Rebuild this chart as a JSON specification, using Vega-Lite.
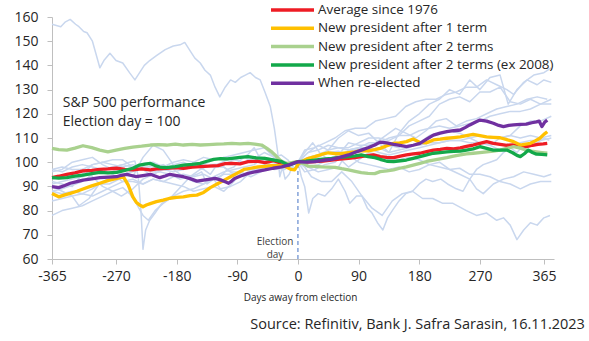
{
"$schema":"https://vega.github.io/schema/vega-lite/v6.json",
"autosize":{"type":"none"},
"width":502,"height":242,
"padding":{"left":52,"top":17,"right":35,"bottom":82},
"background":"white",
"title":{"text":"Source: Refinitiv, Bank J. Safra Sarasin, 16.11.2023","orient":"bottom","anchor":"end","fontSize":14.5,"fontWeight":"normal","font":"Open Sans","color":"#262626","offset":16,"dx":29},
"config":{"view":{"stroke":null},"font":"Open Sans",
"axis":{"grid":false,"domainColor":"#bfbfbf","tickColor":"#bfbfbf","labelFont":"Open Sans","labelColor":"#262626","labelFontSize":14,"titleFont":"Open Sans","titleFontWeight":"normal","titleColor":"#262626","labelOverlap":false}},
"datasets":{
"bg":[
{"s":"1976","d":-365,"v":88},{"s":"1976","d":-350,"v":89},{"s":"1976","d":-335,"v":90.5},{"s":"1976","d":-320,"v":92},{"s":"1976","d":-305,"v":95},{"s":"1976","d":-290,"v":97},{"s":"1976","d":-275,"v":98},{"s":"1976","d":-260,"v":99},{"s":"1976","d":-245,"v":98},{"s":"1976","d":-230,"v":99.5},{"s":"1976","d":-215,"v":100},{"s":"1976","d":-200,"v":98},{"s":"1976","d":-185,"v":100},{"s":"1976","d":-170,"v":101},{"s":"1976","d":-155,"v":100},{"s":"1976","d":-140,"v":99},{"s":"1976","d":-125,"v":101},{"s":"1976","d":-110,"v":102},{"s":"1976","d":-95,"v":101},{"s":"1976","d":-80,"v":100},{"s":"1976","d":-65,"v":101.5},{"s":"1976","d":-50,"v":104},{"s":"1976","d":-35,"v":102},{"s":"1976","d":-20,"v":99},{"s":"1976","d":-8,"v":99.5},{"s":"1976","d":0,"v":100},{"s":"1976","d":15,"v":100.5},{"s":"1976","d":30,"v":102},{"s":"1976","d":45,"v":104},{"s":"1976","d":60,"v":104.5},{"s":"1976","d":75,"v":103},{"s":"1976","d":90,"v":100},{"s":"1976","d":105,"v":99},{"s":"1976","d":120,"v":98},{"s":"1976","d":135,"v":97},{"s":"1976","d":150,"v":98},{"s":"1976","d":165,"v":96},{"s":"1976","d":180,"v":97},{"s":"1976","d":195,"v":99},{"s":"1976","d":210,"v":98},{"s":"1976","d":225,"v":97},{"s":"1976","d":240,"v":97.5},{"s":"1976","d":255,"v":95},{"s":"1976","d":270,"v":95},{"s":"1976","d":285,"v":94},{"s":"1976","d":300,"v":92},{"s":"1976","d":315,"v":91},{"s":"1976","d":330,"v":89},{"s":"1976","d":345,"v":91},{"s":"1976","d":360,"v":92},{"s":"1976","d":376,"v":92},
{"s":"1980","d":-365,"v":78},{"s":"1980","d":-350,"v":80},{"s":"1980","d":-335,"v":81},{"s":"1980","d":-320,"v":82},{"s":"1980","d":-305,"v":84},{"s":"1980","d":-290,"v":86},{"s":"1980","d":-275,"v":88},{"s":"1980","d":-260,"v":89.5},{"s":"1980","d":-250,"v":87},{"s":"1980","d":-240,"v":83},{"s":"1980","d":-230,"v":78},{"s":"1980","d":-222,"v":76},{"s":"1980","d":-212,"v":80},{"s":"1980","d":-200,"v":83},{"s":"1980","d":-185,"v":86},{"s":"1980","d":-170,"v":88},{"s":"1980","d":-155,"v":89},{"s":"1980","d":-140,"v":91},{"s":"1980","d":-125,"v":93},{"s":"1980","d":-110,"v":95},{"s":"1980","d":-95,"v":95},{"s":"1980","d":-80,"v":97},{"s":"1980","d":-65,"v":96},{"s":"1980","d":-50,"v":98},{"s":"1980","d":-35,"v":98},{"s":"1980","d":-20,"v":97},{"s":"1980","d":0,"v":100},{"s":"1980","d":10,"v":104},{"s":"1980","d":22,"v":108},{"s":"1980","d":32,"v":104},{"s":"1980","d":45,"v":101},{"s":"1980","d":60,"v":102},{"s":"1980","d":75,"v":98},{"s":"1980","d":90,"v":101},{"s":"1980","d":105,"v":104},{"s":"1980","d":120,"v":103},{"s":"1980","d":135,"v":101},{"s":"1980","d":150,"v":101},{"s":"1980","d":165,"v":102},{"s":"1980","d":180,"v":101},{"s":"1980","d":195,"v":99},{"s":"1980","d":210,"v":100},{"s":"1980","d":225,"v":97},{"s":"1980","d":240,"v":95},{"s":"1980","d":255,"v":93},{"s":"1980","d":265,"v":89},{"s":"1980","d":275,"v":87},{"s":"1980","d":290,"v":91},{"s":"1980","d":305,"v":93},{"s":"1980","d":320,"v":94},{"s":"1980","d":335,"v":96},{"s":"1980","d":350,"v":95},{"s":"1980","d":365,"v":94},{"s":"1980","d":376,"v":95},
{"s":"1984","d":-365,"v":97},{"s":"1984","d":-350,"v":96},{"s":"1984","d":-335,"v":98},{"s":"1984","d":-320,"v":99},{"s":"1984","d":-305,"v":98},{"s":"1984","d":-290,"v":97},{"s":"1984","d":-275,"v":95},{"s":"1984","d":-260,"v":92},{"s":"1984","d":-245,"v":93},{"s":"1984","d":-230,"v":91},{"s":"1984","d":-215,"v":93},{"s":"1984","d":-200,"v":92},{"s":"1984","d":-185,"v":91},{"s":"1984","d":-170,"v":90},{"s":"1984","d":-155,"v":88},{"s":"1984","d":-140,"v":89},{"s":"1984","d":-125,"v":90},{"s":"1984","d":-110,"v":88},{"s":"1984","d":-95,"v":92},{"s":"1984","d":-80,"v":97},{"s":"1984","d":-65,"v":97},{"s":"1984","d":-50,"v":98},{"s":"1984","d":-35,"v":97},{"s":"1984","d":-20,"v":97.5},{"s":"1984","d":0,"v":100},{"s":"1984","d":15,"v":98},{"s":"1984","d":30,"v":96},{"s":"1984","d":45,"v":97},{"s":"1984","d":60,"v":98},{"s":"1984","d":75,"v":105},{"s":"1984","d":90,"v":106},{"s":"1984","d":105,"v":105},{"s":"1984","d":120,"v":106},{"s":"1984","d":135,"v":104},{"s":"1984","d":150,"v":105},{"s":"1984","d":165,"v":106},{"s":"1984","d":180,"v":108},{"s":"1984","d":195,"v":111},{"s":"1984","d":210,"v":112},{"s":"1984","d":225,"v":113},{"s":"1984","d":240,"v":112},{"s":"1984","d":255,"v":110},{"s":"1984","d":270,"v":108},{"s":"1984","d":285,"v":107},{"s":"1984","d":300,"v":110},{"s":"1984","d":315,"v":111},{"s":"1984","d":330,"v":115},{"s":"1984","d":345,"v":117},{"s":"1984","d":360,"v":117},{"s":"1984","d":376,"v":119},
{"s":"1988","d":-365,"v":90},{"s":"1988","d":-350,"v":88},{"s":"1988","d":-335,"v":86},{"s":"1988","d":-325,"v":82},{"s":"1988","d":-310,"v":85},{"s":"1988","d":-295,"v":91},{"s":"1988","d":-280,"v":91},{"s":"1988","d":-265,"v":93},{"s":"1988","d":-250,"v":96},{"s":"1988","d":-235,"v":98},{"s":"1988","d":-220,"v":95},{"s":"1988","d":-205,"v":96},{"s":"1988","d":-190,"v":95},{"s":"1988","d":-175,"v":93},{"s":"1988","d":-160,"v":94},{"s":"1988","d":-145,"v":97},{"s":"1988","d":-130,"v":99},{"s":"1988","d":-115,"v":99},{"s":"1988","d":-100,"v":96},{"s":"1988","d":-85,"v":96},{"s":"1988","d":-70,"v":94},{"s":"1988","d":-55,"v":96},{"s":"1988","d":-40,"v":98},{"s":"1988","d":-25,"v":101},{"s":"1988","d":-10,"v":99},{"s":"1988","d":0,"v":100},{"s":"1988","d":15,"v":98},{"s":"1988","d":30,"v":99},{"s":"1988","d":45,"v":101},{"s":"1988","d":60,"v":103},{"s":"1988","d":75,"v":108},{"s":"1988","d":90,"v":107},{"s":"1988","d":105,"v":107},{"s":"1988","d":120,"v":108},{"s":"1988","d":135,"v":110},{"s":"1988","d":150,"v":111},{"s":"1988","d":165,"v":115},{"s":"1988","d":180,"v":117},{"s":"1988","d":195,"v":119},{"s":"1988","d":210,"v":124},{"s":"1988","d":225,"v":126},{"s":"1988","d":240,"v":127},{"s":"1988","d":255,"v":125},{"s":"1988","d":270,"v":129},{"s":"1988","d":285,"v":129},{"s":"1988","d":300,"v":131},{"s":"1988","d":315,"v":125},{"s":"1988","d":330,"v":124},{"s":"1988","d":345,"v":126},{"s":"1988","d":360,"v":124},{"s":"1988","d":376,"v":126},
{"s":"1992","d":-365,"v":92},{"s":"1992","d":-350,"v":91},{"s":"1992","d":-335,"v":90},{"s":"1992","d":-320,"v":95},{"s":"1992","d":-305,"v":99},{"s":"1992","d":-290,"v":100},{"s":"1992","d":-275,"v":99},{"s":"1992","d":-260,"v":98},{"s":"1992","d":-245,"v":99},{"s":"1992","d":-230,"v":97},{"s":"1992","d":-215,"v":96},{"s":"1992","d":-200,"v":97},{"s":"1992","d":-185,"v":99},{"s":"1992","d":-170,"v":100},{"s":"1992","d":-155,"v":98},{"s":"1992","d":-140,"v":98},{"s":"1992","d":-125,"v":99},{"s":"1992","d":-110,"v":99},{"s":"1992","d":-95,"v":101},{"s":"1992","d":-80,"v":102},{"s":"1992","d":-65,"v":100},{"s":"1992","d":-50,"v":101},{"s":"1992","d":-35,"v":100},{"s":"1992","d":-20,"v":98},{"s":"1992","d":0,"v":100},{"s":"1992","d":15,"v":102},{"s":"1992","d":30,"v":103},{"s":"1992","d":45,"v":104},{"s":"1992","d":60,"v":104},{"s":"1992","d":75,"v":103},{"s":"1992","d":90,"v":106},{"s":"1992","d":105,"v":108},{"s":"1992","d":120,"v":108},{"s":"1992","d":135,"v":107},{"s":"1992","d":150,"v":106},{"s":"1992","d":165,"v":107},{"s":"1992","d":180,"v":107},{"s":"1992","d":195,"v":108},{"s":"1992","d":210,"v":108},{"s":"1992","d":225,"v":109},{"s":"1992","d":240,"v":109},{"s":"1992","d":255,"v":110},{"s":"1992","d":270,"v":111},{"s":"1992","d":285,"v":110},{"s":"1992","d":300,"v":110},{"s":"1992","d":315,"v":111},{"s":"1992","d":330,"v":110},{"s":"1992","d":345,"v":111},{"s":"1992","d":360,"v":110},{"s":"1992","d":376,"v":111},
{"s":"1996","d":-365,"v":84},{"s":"1996","d":-350,"v":85},{"s":"1996","d":-335,"v":86},{"s":"1996","d":-320,"v":87},{"s":"1996","d":-305,"v":86},{"s":"1996","d":-290,"v":88},{"s":"1996","d":-275,"v":90},{"s":"1996","d":-260,"v":92},{"s":"1996","d":-245,"v":92},{"s":"1996","d":-230,"v":91},{"s":"1996","d":-215,"v":93},{"s":"1996","d":-200,"v":92},{"s":"1996","d":-185,"v":94},{"s":"1996","d":-170,"v":95},{"s":"1996","d":-155,"v":94},{"s":"1996","d":-140,"v":95},{"s":"1996","d":-125,"v":93},{"s":"1996","d":-115,"v":89},{"s":"1996","d":-100,"v":90},{"s":"1996","d":-85,"v":92},{"s":"1996","d":-70,"v":96},{"s":"1996","d":-55,"v":97},{"s":"1996","d":-40,"v":100},{"s":"1996","d":-25,"v":99},{"s":"1996","d":-10,"v":99},{"s":"1996","d":0,"v":100},{"s":"1996","d":15,"v":104},{"s":"1996","d":30,"v":107},{"s":"1996","d":45,"v":105},{"s":"1996","d":60,"v":110},{"s":"1996","d":75,"v":113},{"s":"1996","d":90,"v":111},{"s":"1996","d":105,"v":112},{"s":"1996","d":120,"v":108},{"s":"1996","d":135,"v":104},{"s":"1996","d":150,"v":112},{"s":"1996","d":165,"v":117},{"s":"1996","d":180,"v":120},{"s":"1996","d":195,"v":124},{"s":"1996","d":210,"v":126},{"s":"1996","d":225,"v":130},{"s":"1996","d":240,"v":128},{"s":"1996","d":255,"v":134},{"s":"1996","d":270,"v":130},{"s":"1996","d":285,"v":135},{"s":"1996","d":300,"v":136},{"s":"1996","d":312,"v":124},{"s":"1996","d":325,"v":130},{"s":"1996","d":340,"v":134},{"s":"1996","d":355,"v":132},{"s":"1996","d":365,"v":134},{"s":"1996","d":376,"v":133},
{"s":"2000","d":-365,"v":96},{"s":"2000","d":-350,"v":97},{"s":"2000","d":-335,"v":100},{"s":"2000","d":-320,"v":101},{"s":"2000","d":-305,"v":102},{"s":"2000","d":-290,"v":99},{"s":"2000","d":-275,"v":97},{"s":"2000","d":-260,"v":95},{"s":"2000","d":-245,"v":94},{"s":"2000","d":-230,"v":102},{"s":"2000","d":-215,"v":107},{"s":"2000","d":-200,"v":105},{"s":"2000","d":-185,"v":99},{"s":"2000","d":-170,"v":97},{"s":"2000","d":-155,"v":100},{"s":"2000","d":-140,"v":102},{"s":"2000","d":-125,"v":101},{"s":"2000","d":-110,"v":102},{"s":"2000","d":-95,"v":103},{"s":"2000","d":-80,"v":104},{"s":"2000","d":-65,"v":105},{"s":"2000","d":-50,"v":106},{"s":"2000","d":-35,"v":102},{"s":"2000","d":-20,"v":97},{"s":"2000","d":-8,"v":99},{"s":"2000","d":0,"v":100},{"s":"2000","d":10,"v":98},{"s":"2000","d":20,"v":94},{"s":"2000","d":35,"v":92},{"s":"2000","d":50,"v":92},{"s":"2000","d":65,"v":96},{"s":"2000","d":80,"v":92},{"s":"2000","d":95,"v":86},{"s":"2000","d":110,"v":81},{"s":"2000","d":125,"v":78},{"s":"2000","d":140,"v":84},{"s":"2000","d":155,"v":87},{"s":"2000","d":170,"v":88},{"s":"2000","d":185,"v":85},{"s":"2000","d":200,"v":85},{"s":"2000","d":215,"v":83},{"s":"2000","d":230,"v":83},{"s":"2000","d":250,"v":80},{"s":"2000","d":265,"v":78},{"s":"2000","d":280,"v":79},{"s":"2000","d":295,"v":76},{"s":"2000","d":305,"v":77},{"s":"2000","d":315,"v":74},{"s":"2000","d":325,"v":68},{"s":"2000","d":335,"v":72},{"s":"2000","d":345,"v":75},{"s":"2000","d":355,"v":74},{"s":"2000","d":365,"v":77},{"s":"2000","d":374,"v":78},
{"s":"2004","d":-365,"v":93},{"s":"2004","d":-350,"v":94},{"s":"2004","d":-335,"v":95},{"s":"2004","d":-320,"v":97},{"s":"2004","d":-305,"v":99},{"s":"2004","d":-290,"v":100},{"s":"2004","d":-275,"v":101},{"s":"2004","d":-260,"v":101},{"s":"2004","d":-245,"v":98},{"s":"2004","d":-230,"v":97},{"s":"2004","d":-215,"v":99},{"s":"2004","d":-200,"v":97},{"s":"2004","d":-185,"v":96},{"s":"2004","d":-170,"v":97},{"s":"2004","d":-155,"v":98},{"s":"2004","d":-140,"v":99},{"s":"2004","d":-125,"v":98},{"s":"2004","d":-110,"v":98},{"s":"2004","d":-95,"v":95},{"s":"2004","d":-80,"v":94},{"s":"2004","d":-65,"v":97},{"s":"2004","d":-50,"v":99},{"s":"2004","d":-35,"v":98},{"s":"2004","d":-20,"v":98},{"s":"2004","d":0,"v":100},{"s":"2004","d":15,"v":104},{"s":"2004","d":30,"v":105},{"s":"2004","d":45,"v":107},{"s":"2004","d":60,"v":106},{"s":"2004","d":75,"v":105},{"s":"2004","d":90,"v":106},{"s":"2004","d":105,"v":106},{"s":"2004","d":120,"v":104},{"s":"2004","d":135,"v":103},{"s":"2004","d":150,"v":104},{"s":"2004","d":165,"v":105},{"s":"2004","d":180,"v":106},{"s":"2004","d":195,"v":107},{"s":"2004","d":210,"v":108},{"s":"2004","d":225,"v":109},{"s":"2004","d":240,"v":109},{"s":"2004","d":255,"v":108},{"s":"2004","d":270,"v":108},{"s":"2004","d":285,"v":107},{"s":"2004","d":300,"v":105},{"s":"2004","d":315,"v":106},{"s":"2004","d":330,"v":108},{"s":"2004","d":345,"v":109},{"s":"2004","d":360,"v":109},{"s":"2004","d":376,"v":110},
{"s":"2008","d":-365,"v":157},{"s":"2008","d":-352,"v":156},{"s":"2008","d":-345,"v":158},{"s":"2008","d":-338,"v":159},{"s":"2008","d":-330,"v":157},{"s":"2008","d":-325,"v":156},{"s":"2008","d":-318,"v":154},{"s":"2008","d":-313,"v":153.5},{"s":"2008","d":-305,"v":150},{"s":"2008","d":-300,"v":145},{"s":"2008","d":-294,"v":139},{"s":"2008","d":-288,"v":142},{"s":"2008","d":-279,"v":145},{"s":"2008","d":-270,"v":142},{"s":"2008","d":-260,"v":141},{"s":"2008","d":-250,"v":137},{"s":"2008","d":-242,"v":134},{"s":"2008","d":-235,"v":137},{"s":"2008","d":-228,"v":140},{"s":"2008","d":-220,"v":142},{"s":"2008","d":-210,"v":144},{"s":"2008","d":-197,"v":146.5},{"s":"2008","d":-185,"v":148},{"s":"2008","d":-175,"v":148.5},{"s":"2008","d":-168,"v":149.5},{"s":"2008","d":-160,"v":146},{"s":"2008","d":-153,"v":143},{"s":"2008","d":-145,"v":141},{"s":"2008","d":-138,"v":138},{"s":"2008","d":-130,"v":136},{"s":"2008","d":-123,"v":131},{"s":"2008","d":-116,"v":127},{"s":"2008","d":-108,"v":131},{"s":"2008","d":-100,"v":134},{"s":"2008","d":-93,"v":133},{"s":"2008","d":-85,"v":135},{"s":"2008","d":-78,"v":136},{"s":"2008","d":-71,"v":137},{"s":"2008","d":-63,"v":135},{"s":"2008","d":-56,"v":134},{"s":"2008","d":-49,"v":129},{"s":"2008","d":-41,"v":123},{"s":"2008","d":-35,"v":114},{"s":"2008","d":-30,"v":104},{"s":"2008","d":-27,"v":94},{"s":"2008","d":-23,"v":98},{"s":"2008","d":-19,"v":93},{"s":"2008","d":-13,"v":95},{"s":"2008","d":-7,"v":99},{"s":"2008","d":0,"v":100},{"s":"2008","d":5,"v":94},{"s":"2008","d":10,"v":90},{"s":"2008","d":16,"v":79},{"s":"2008","d":22,"v":85},{"s":"2008","d":30,"v":87},{"s":"2008","d":40,"v":86},{"s":"2008","d":50,"v":89},{"s":"2008","d":60,"v":93},{"s":"2008","d":70,"v":88},{"s":"2008","d":77,"v":83},{"s":"2008","d":87,"v":86},{"s":"2008","d":95,"v":86},{"s":"2008","d":103,"v":81},{"s":"2008","d":110,"v":79},{"s":"2008","d":118,"v":75},{"s":"2008","d":126,"v":72},{"s":"2008","d":133,"v":77},{"s":"2008","d":140,"v":80},{"s":"2008","d":150,"v":84},{"s":"2008","d":160,"v":87},{"s":"2008","d":170,"v":88},{"s":"2008","d":180,"v":91},{"s":"2008","d":190,"v":93},{"s":"2008","d":200,"v":92},{"s":"2008","d":212,"v":93},{"s":"2008","d":222,"v":91},{"s":"2008","d":235,"v":89},{"s":"2008","d":245,"v":88},{"s":"2008","d":255,"v":93},{"s":"2008","d":265,"v":97},{"s":"2008","d":275,"v":99},{"s":"2008","d":285,"v":100},{"s":"2008","d":295,"v":101},{"s":"2008","d":305,"v":104},{"s":"2008","d":315,"v":106},{"s":"2008","d":325,"v":104},{"s":"2008","d":335,"v":107},{"s":"2008","d":345,"v":108},{"s":"2008","d":355,"v":108},{"s":"2008","d":365,"v":110},{"s":"2008","d":373,"v":109},
{"s":"2012","d":-365,"v":88},{"s":"2012","d":-350,"v":87},{"s":"2012","d":-335,"v":88},{"s":"2012","d":-320,"v":87},{"s":"2012","d":-305,"v":89},{"s":"2012","d":-290,"v":92},{"s":"2012","d":-275,"v":94},{"s":"2012","d":-260,"v":95},{"s":"2012","d":-245,"v":96},{"s":"2012","d":-230,"v":98},{"s":"2012","d":-215,"v":98},{"s":"2012","d":-200,"v":99},{"s":"2012","d":-185,"v":97},{"s":"2012","d":-170,"v":94},{"s":"2012","d":-155,"v":92},{"s":"2012","d":-140,"v":91},{"s":"2012","d":-125,"v":94},{"s":"2012","d":-110,"v":96},{"s":"2012","d":-95,"v":97},{"s":"2012","d":-80,"v":98},{"s":"2012","d":-65,"v":99},{"s":"2012","d":-50,"v":102},{"s":"2012","d":-35,"v":101},{"s":"2012","d":-20,"v":99},{"s":"2012","d":0,"v":100},{"s":"2012","d":10,"v":96},{"s":"2012","d":25,"v":97},{"s":"2012","d":40,"v":99},{"s":"2012","d":55,"v":100},{"s":"2012","d":70,"v":104},{"s":"2012","d":85,"v":105},{"s":"2012","d":100,"v":106},{"s":"2012","d":115,"v":108},{"s":"2012","d":130,"v":111},{"s":"2012","d":145,"v":114},{"s":"2012","d":160,"v":112},{"s":"2012","d":175,"v":110},{"s":"2012","d":190,"v":113},{"s":"2012","d":205,"v":117},{"s":"2012","d":220,"v":118},{"s":"2012","d":235,"v":115},{"s":"2012","d":250,"v":117},{"s":"2012","d":265,"v":118},{"s":"2012","d":280,"v":120},{"s":"2012","d":295,"v":122},{"s":"2012","d":310,"v":123},{"s":"2012","d":325,"v":124},{"s":"2012","d":340,"v":126},{"s":"2012","d":355,"v":127},{"s":"2012","d":370,"v":126},
{"s":"2016","d":-365,"v":97},{"s":"2016","d":-350,"v":98},{"s":"2016","d":-335,"v":97},{"s":"2016","d":-320,"v":97},{"s":"2016","d":-305,"v":94},{"s":"2016","d":-290,"v":90},{"s":"2016","d":-275,"v":88},{"s":"2016","d":-262,"v":86},{"s":"2016","d":-245,"v":89},{"s":"2016","d":-230,"v":93},{"s":"2016","d":-215,"v":95},{"s":"2016","d":-200,"v":97},{"s":"2016","d":-185,"v":97},{"s":"2016","d":-170,"v":98},{"s":"2016","d":-155,"v":99},{"s":"2016","d":-140,"v":97},{"s":"2016","d":-130,"v":95},{"s":"2016","d":-120,"v":99},{"s":"2016","d":-105,"v":101},{"s":"2016","d":-90,"v":102},{"s":"2016","d":-75,"v":102},{"s":"2016","d":-60,"v":101},{"s":"2016","d":-45,"v":100},{"s":"2016","d":-30,"v":100},{"s":"2016","d":-15,"v":99},{"s":"2016","d":-4,"v":97.5},{"s":"2016","d":0,"v":100},{"s":"2016","d":15,"v":102},{"s":"2016","d":30,"v":103},{"s":"2016","d":45,"v":105},{"s":"2016","d":60,"v":106},{"s":"2016","d":75,"v":106},{"s":"2016","d":90,"v":108},{"s":"2016","d":105,"v":110},{"s":"2016","d":120,"v":110},{"s":"2016","d":135,"v":109},{"s":"2016","d":150,"v":111},{"s":"2016","d":165,"v":111},{"s":"2016","d":180,"v":113},{"s":"2016","d":195,"v":114},{"s":"2016","d":210,"v":115},{"s":"2016","d":225,"v":114},{"s":"2016","d":240,"v":115},{"s":"2016","d":255,"v":116},{"s":"2016","d":270,"v":117},{"s":"2016","d":285,"v":119},{"s":"2016","d":300,"v":120},{"s":"2016","d":315,"v":121},{"s":"2016","d":330,"v":121},{"s":"2016","d":345,"v":122},{"s":"2016","d":360,"v":124},{"s":"2016","d":376,"v":124},
{"s":"2020","d":-365,"v":91},{"s":"2020","d":-350,"v":92},{"s":"2020","d":-335,"v":93},{"s":"2020","d":-320,"v":94},{"s":"2020","d":-305,"v":96},{"s":"2020","d":-290,"v":97},{"s":"2020","d":-275,"v":98},{"s":"2020","d":-260,"v":99},{"s":"2020","d":-250,"v":100},{"s":"2020","d":-242,"v":100.5},{"s":"2020","d":-237,"v":94},{"s":"2020","d":-233,"v":80},{"s":"2020","d":-230,"v":64},{"s":"2020","d":-226,"v":72},{"s":"2020","d":-220,"v":76},{"s":"2020","d":-212,"v":79},{"s":"2020","d":-202,"v":83},{"s":"2020","d":-190,"v":85},{"s":"2020","d":-180,"v":88},{"s":"2020","d":-170,"v":91},{"s":"2020","d":-160,"v":94},{"s":"2020","d":-150,"v":95},{"s":"2020","d":-143,"v":96},{"s":"2020","d":-135,"v":91},{"s":"2020","d":-125,"v":93},{"s":"2020","d":-115,"v":94},{"s":"2020","d":-105,"v":97},{"s":"2020","d":-95,"v":98},{"s":"2020","d":-85,"v":101},{"s":"2020","d":-75,"v":103},{"s":"2020","d":-65,"v":106},{"s":"2020","d":-55,"v":101},{"s":"2020","d":-45,"v":99},{"s":"2020","d":-35,"v":102},{"s":"2020","d":-25,"v":103},{"s":"2020","d":-15,"v":101},{"s":"2020","d":-5,"v":97},{"s":"2020","d":0,"v":100},{"s":"2020","d":10,"v":105},{"s":"2020","d":25,"v":106},{"s":"2020","d":40,"v":108},{"s":"2020","d":55,"v":110},{"s":"2020","d":70,"v":113},{"s":"2020","d":85,"v":114},{"s":"2020","d":100,"v":114},{"s":"2020","d":115,"v":117},{"s":"2020","d":130,"v":118},{"s":"2020","d":145,"v":119},{"s":"2020","d":160,"v":123},{"s":"2020","d":175,"v":125},{"s":"2020","d":190,"v":126},{"s":"2020","d":205,"v":126},{"s":"2020","d":220,"v":128},{"s":"2020","d":235,"v":129},{"s":"2020","d":250,"v":131},{"s":"2020","d":265,"v":131},{"s":"2020","d":280,"v":134},{"s":"2020","d":295,"v":132},{"s":"2020","d":310,"v":130},{"s":"2020","d":320,"v":128},{"s":"2020","d":335,"v":133},{"s":"2020","d":350,"v":136},{"s":"2020","d":365,"v":137},{"s":"2020","d":376,"v":139}
],
"hl":[
{"s":"Average since 1976","d":-365,"v":93.6},{"s":"Average since 1976","d":-355,"v":94.2},{"s":"Average since 1976","d":-343,"v":95},{"s":"Average since 1976","d":-331,"v":95.6},{"s":"Average since 1976","d":-319,"v":96.4},{"s":"Average since 1976","d":-306,"v":96.6},{"s":"Average since 1976","d":-294,"v":97},{"s":"Average since 1976","d":-282,"v":97.2},{"s":"Average since 1976","d":-269,"v":97.5},{"s":"Average since 1976","d":-257,"v":97},{"s":"Average since 1976","d":-245,"v":96.8},{"s":"Average since 1976","d":-232,"v":97.2},{"s":"Average since 1976","d":-219,"v":96.8},{"s":"Average since 1976","d":-207,"v":97.3},{"s":"Average since 1976","d":-195,"v":97.5},{"s":"Average since 1976","d":-182,"v":97.8},{"s":"Average since 1976","d":-170,"v":97.5},{"s":"Average since 1976","d":-157,"v":98},{"s":"Average since 1976","d":-145,"v":98.2},{"s":"Average since 1976","d":-132,"v":98.4},{"s":"Average since 1976","d":-119,"v":98.6},{"s":"Average since 1976","d":-108,"v":99.4},{"s":"Average since 1976","d":-98,"v":99.5},{"s":"Average since 1976","d":-86,"v":99.3},{"s":"Average since 1976","d":-74,"v":100.2},{"s":"Average since 1976","d":-61,"v":100.4},{"s":"Average since 1976","d":-49,"v":99.8},{"s":"Average since 1976","d":-36,"v":100.6},{"s":"Average since 1976","d":-24,"v":99.5},{"s":"Average since 1976","d":-12,"v":99.3},{"s":"Average since 1976","d":0,"v":100.2},{"s":"Average since 1976","d":12,"v":100},{"s":"Average since 1976","d":25,"v":100.2},{"s":"Average since 1976","d":37,"v":100.5},{"s":"Average since 1976","d":50,"v":100.9},{"s":"Average since 1976","d":62,"v":101.3},{"s":"Average since 1976","d":75,"v":101.6},{"s":"Average since 1976","d":87,"v":102},{"s":"Average since 1976","d":100,"v":102.6},{"s":"Average since 1976","d":112,"v":103},{"s":"Average since 1976","d":122,"v":102.3},{"s":"Average since 1976","d":132,"v":102},{"s":"Average since 1976","d":142,"v":101.9},{"s":"Average since 1976","d":152,"v":102.5},{"s":"Average since 1976","d":161,"v":103},{"s":"Average since 1976","d":171,"v":103.4},{"s":"Average since 1976","d":181,"v":103.7},{"s":"Average since 1976","d":191,"v":104.4},{"s":"Average since 1976","d":201,"v":105},{"s":"Average since 1976","d":211,"v":105.3},{"s":"Average since 1976","d":221,"v":105.7},{"s":"Average since 1976","d":231,"v":105.5},{"s":"Average since 1976","d":241,"v":105.9},{"s":"Average since 1976","d":250,"v":106.5},{"s":"Average since 1976","d":260,"v":107.1},{"s":"Average since 1976","d":270,"v":107.8},{"s":"Average since 1976","d":280,"v":108.5},{"s":"Average since 1976","d":290,"v":107.8},{"s":"Average since 1976","d":300,"v":107.4},{"s":"Average since 1976","d":310,"v":107},{"s":"Average since 1976","d":320,"v":107.1},{"s":"Average since 1976","d":330,"v":106.8},{"s":"Average since 1976","d":339,"v":106.4},{"s":"Average since 1976","d":348,"v":107},{"s":"Average since 1976","d":356,"v":107.4},{"s":"Average since 1976","d":364,"v":107.6},{"s":"Average since 1976","d":370,"v":107.8},
{"s":"New president after 1 term","d":-365,"v":87.1},{"s":"New president after 1 term","d":-355,"v":85.7},{"s":"New president after 1 term","d":-346,"v":86.5},{"s":"New president after 1 term","d":-338,"v":87.1},{"s":"New president after 1 term","d":-328,"v":88},{"s":"New president after 1 term","d":-319,"v":88.9},{"s":"New president after 1 term","d":-306,"v":90.2},{"s":"New president after 1 term","d":-294,"v":91.3},{"s":"New president after 1 term","d":-281,"v":92.5},{"s":"New president after 1 term","d":-269,"v":93.3},{"s":"New president after 1 term","d":-259,"v":93.9},{"s":"New president after 1 term","d":-252,"v":90.6},{"s":"New president after 1 term","d":-245,"v":85.7},{"s":"New president after 1 term","d":-240,"v":83.5},{"s":"New president after 1 term","d":-235,"v":82.3},{"s":"New president after 1 term","d":-230,"v":81.6},{"s":"New president after 1 term","d":-225,"v":82.3},{"s":"New president after 1 term","d":-218,"v":83},{"s":"New president after 1 term","d":-210,"v":83.7},{"s":"New president after 1 term","d":-200,"v":84.3},{"s":"New president after 1 term","d":-190,"v":85.1},{"s":"New president after 1 term","d":-180,"v":85.5},{"s":"New president after 1 term","d":-170,"v":85.7},{"s":"New president after 1 term","d":-160,"v":86.2},{"s":"New president after 1 term","d":-150,"v":86.4},{"s":"New president after 1 term","d":-140,"v":87.5},{"s":"New president after 1 term","d":-130,"v":89.5},{"s":"New president after 1 term","d":-120,"v":91},{"s":"New president after 1 term","d":-110,"v":92.5},{"s":"New president after 1 term","d":-100,"v":94},{"s":"New president after 1 term","d":-90,"v":95.5},{"s":"New president after 1 term","d":-80,"v":97},{"s":"New president after 1 term","d":-70,"v":97.5},{"s":"New president after 1 term","d":-59,"v":98.1},{"s":"New president after 1 term","d":-49,"v":98.3},{"s":"New president after 1 term","d":-40,"v":98.6},{"s":"New president after 1 term","d":-30,"v":98.6},{"s":"New president after 1 term","d":-20,"v":98.4},{"s":"New president after 1 term","d":-10,"v":97},{"s":"New president after 1 term","d":-5,"v":96.8},{"s":"New president after 1 term","d":0,"v":99},{"s":"New president after 1 term","d":5,"v":100.2},{"s":"New president after 1 term","d":15,"v":101.5},{"s":"New president after 1 term","d":25,"v":102.3},{"s":"New president after 1 term","d":35,"v":103.2},{"s":"New president after 1 term","d":45,"v":103.9},{"s":"New president after 1 term","d":55,"v":103.5},{"s":"New president after 1 term","d":65,"v":103.6},{"s":"New president after 1 term","d":75,"v":104},{"s":"New president after 1 term","d":84,"v":104.3},{"s":"New president after 1 term","d":94,"v":104.8},{"s":"New president after 1 term","d":104,"v":104.7},{"s":"New president after 1 term","d":114,"v":105.2},{"s":"New president after 1 term","d":122,"v":105.7},{"s":"New president after 1 term","d":132,"v":106.8},{"s":"New president after 1 term","d":142,"v":107.8},{"s":"New president after 1 term","d":151,"v":108},{"s":"New president after 1 term","d":161,"v":108.5},{"s":"New president after 1 term","d":171,"v":109.6},{"s":"New president after 1 term","d":181,"v":108.2},{"s":"New president after 1 term","d":191,"v":108},{"s":"New president after 1 term","d":201,"v":109.2},{"s":"New president after 1 term","d":211,"v":109.5},{"s":"New president after 1 term","d":221,"v":109.9},{"s":"New president after 1 term","d":231,"v":110.2},{"s":"New president after 1 term","d":241,"v":110.5},{"s":"New president after 1 term","d":250,"v":111},{"s":"New president after 1 term","d":260,"v":111.5},{"s":"New president after 1 term","d":270,"v":111},{"s":"New president after 1 term","d":280,"v":110.5},{"s":"New president after 1 term","d":290,"v":110.3},{"s":"New president after 1 term","d":300,"v":110.1},{"s":"New president after 1 term","d":310,"v":109.3},{"s":"New president after 1 term","d":320,"v":108.5},{"s":"New president after 1 term","d":330,"v":107.1},{"s":"New president after 1 term","d":338,"v":107.5},{"s":"New president after 1 term","d":345,"v":107.8},{"s":"New president after 1 term","d":352,"v":108.8},{"s":"New president after 1 term","d":359,"v":109.9},{"s":"New president after 1 term","d":365,"v":111.5},{"s":"New president after 1 term","d":370,"v":112.6},
{"s":"New president after 2 terms","d":-365,"v":105.7},{"s":"New president after 2 terms","d":-355,"v":105.2},{"s":"New president after 2 terms","d":-343,"v":105},{"s":"New president after 2 terms","d":-331,"v":105.8},{"s":"New president after 2 terms","d":-319,"v":106.8},{"s":"New president after 2 terms","d":-306,"v":106},{"s":"New president after 2 terms","d":-294,"v":105},{"s":"New president after 2 terms","d":-282,"v":104.3},{"s":"New president after 2 terms","d":-270,"v":105},{"s":"New president after 2 terms","d":-257,"v":105.7},{"s":"New president after 2 terms","d":-245,"v":106.2},{"s":"New president after 2 terms","d":-232,"v":106.6},{"s":"New president after 2 terms","d":-219,"v":107.1},{"s":"New president after 2 terms","d":-207,"v":107.3},{"s":"New president after 2 terms","d":-195,"v":107.1},{"s":"New president after 2 terms","d":-182,"v":107.5},{"s":"New president after 2 terms","d":-170,"v":107.1},{"s":"New president after 2 terms","d":-157,"v":107.4},{"s":"New president after 2 terms","d":-145,"v":107.1},{"s":"New president after 2 terms","d":-132,"v":107.3},{"s":"New president after 2 terms","d":-120,"v":107.5},{"s":"New president after 2 terms","d":-110,"v":107.6},{"s":"New president after 2 terms","d":-98,"v":107.8},{"s":"New president after 2 terms","d":-86,"v":107.6},{"s":"New president after 2 terms","d":-74,"v":107.8},{"s":"New president after 2 terms","d":-64,"v":107.5},{"s":"New president after 2 terms","d":-54,"v":107.1},{"s":"New president after 2 terms","d":-46,"v":105.7},{"s":"New president after 2 terms","d":-40,"v":104.5},{"s":"New president after 2 terms","d":-34,"v":103},{"s":"New president after 2 terms","d":-29,"v":101.5},{"s":"New president after 2 terms","d":-24,"v":100.2},{"s":"New president after 2 terms","d":-19,"v":99.6},{"s":"New president after 2 terms","d":-14,"v":99.5},{"s":"New president after 2 terms","d":-7,"v":99.9},{"s":"New president after 2 terms","d":0,"v":100.2},{"s":"New president after 2 terms","d":8,"v":99.4},{"s":"New president after 2 terms","d":15,"v":98.4},{"s":"New president after 2 terms","d":25,"v":98.3},{"s":"New president after 2 terms","d":35,"v":98.1},{"s":"New president after 2 terms","d":45,"v":98},{"s":"New president after 2 terms","d":55,"v":97.9},{"s":"New president after 2 terms","d":65,"v":97.3},{"s":"New president after 2 terms","d":75,"v":96.8},{"s":"New president after 2 terms","d":85,"v":96.2},{"s":"New president after 2 terms","d":94,"v":95.7},{"s":"New president after 2 terms","d":104,"v":95.4},{"s":"New president after 2 terms","d":114,"v":95.3},{"s":"New president after 2 terms","d":122,"v":96.1},{"s":"New president after 2 terms","d":132,"v":96.4},{"s":"New president after 2 terms","d":142,"v":96.8},{"s":"New president after 2 terms","d":151,"v":97.5},{"s":"New president after 2 terms","d":161,"v":98.1},{"s":"New president after 2 terms","d":171,"v":98.8},{"s":"New president after 2 terms","d":181,"v":99.5},{"s":"New president after 2 terms","d":191,"v":100.3},{"s":"New president after 2 terms","d":201,"v":100.9},{"s":"New president after 2 terms","d":211,"v":101.4},{"s":"New president after 2 terms","d":221,"v":101.9},{"s":"New president after 2 terms","d":231,"v":102.5},{"s":"New president after 2 terms","d":241,"v":103},{"s":"New president after 2 terms","d":250,"v":103.4},{"s":"New president after 2 terms","d":260,"v":103.7},{"s":"New president after 2 terms","d":270,"v":104},{"s":"New president after 2 terms","d":280,"v":104.3},{"s":"New president after 2 terms","d":290,"v":104.6},{"s":"New president after 2 terms","d":300,"v":105},{"s":"New president after 2 terms","d":310,"v":105.7},{"s":"New president after 2 terms","d":320,"v":106.4},{"s":"New president after 2 terms","d":330,"v":105.8},{"s":"New president after 2 terms","d":339,"v":105},{"s":"New president after 2 terms","d":347,"v":104.6},{"s":"New president after 2 terms","d":354,"v":104.3},{"s":"New president after 2 terms","d":362,"v":104},{"s":"New president after 2 terms","d":370,"v":103.7},
{"s":"New president after 2 terms (ex 2008)","d":-365,"v":93.6},{"s":"New president after 2 terms (ex 2008)","d":-355,"v":93.4},{"s":"New president after 2 terms (ex 2008)","d":-343,"v":93.6},{"s":"New president after 2 terms (ex 2008)","d":-331,"v":94.2},{"s":"New president after 2 terms (ex 2008)","d":-319,"v":94.7},{"s":"New president after 2 terms (ex 2008)","d":-306,"v":95.3},{"s":"New president after 2 terms (ex 2008)","d":-294,"v":95.8},{"s":"New president after 2 terms (ex 2008)","d":-282,"v":95.6},{"s":"New president after 2 terms (ex 2008)","d":-269,"v":95.8},{"s":"New president after 2 terms (ex 2008)","d":-257,"v":96.6},{"s":"New president after 2 terms (ex 2008)","d":-245,"v":97.5},{"s":"New president after 2 terms (ex 2008)","d":-235,"v":98.8},{"s":"New president after 2 terms (ex 2008)","d":-227,"v":99.2},{"s":"New president after 2 terms (ex 2008)","d":-219,"v":99.5},{"s":"New president after 2 terms (ex 2008)","d":-212,"v":98.6},{"s":"New president after 2 terms (ex 2008)","d":-205,"v":98},{"s":"New president after 2 terms (ex 2008)","d":-195,"v":97.8},{"s":"New president after 2 terms (ex 2008)","d":-182,"v":98.2},{"s":"New president after 2 terms (ex 2008)","d":-170,"v":98.8},{"s":"New president after 2 terms (ex 2008)","d":-157,"v":99.1},{"s":"New president after 2 terms (ex 2008)","d":-145,"v":99.5},{"s":"New president after 2 terms (ex 2008)","d":-135,"v":100.4},{"s":"New president after 2 terms (ex 2008)","d":-125,"v":101.2},{"s":"New president after 2 terms (ex 2008)","d":-115,"v":101.5},{"s":"New president after 2 terms (ex 2008)","d":-105,"v":101.4},{"s":"New president after 2 terms (ex 2008)","d":-98,"v":101.6},{"s":"New president after 2 terms (ex 2008)","d":-86,"v":102},{"s":"New president after 2 terms (ex 2008)","d":-74,"v":102.3},{"s":"New president after 2 terms (ex 2008)","d":-62,"v":101.8},{"s":"New president after 2 terms (ex 2008)","d":-49,"v":101.6},{"s":"New president after 2 terms (ex 2008)","d":-37,"v":101},{"s":"New president after 2 terms (ex 2008)","d":-24,"v":100.2},{"s":"New president after 2 terms (ex 2008)","d":-14,"v":98.8},{"s":"New president after 2 terms (ex 2008)","d":-7,"v":99.5},{"s":"New president after 2 terms (ex 2008)","d":0,"v":100.2},{"s":"New president after 2 terms (ex 2008)","d":12,"v":100.4},{"s":"New president after 2 terms (ex 2008)","d":25,"v":100.9},{"s":"New president after 2 terms (ex 2008)","d":37,"v":101.3},{"s":"New president after 2 terms (ex 2008)","d":50,"v":101.6},{"s":"New president after 2 terms (ex 2008)","d":62,"v":102},{"s":"New president after 2 terms (ex 2008)","d":75,"v":102.3},{"s":"New president after 2 terms (ex 2008)","d":85,"v":102.6},{"s":"New president after 2 terms (ex 2008)","d":94,"v":103},{"s":"New president after 2 terms (ex 2008)","d":104,"v":102.3},{"s":"New president after 2 terms (ex 2008)","d":114,"v":101.9},{"s":"New president after 2 terms (ex 2008)","d":122,"v":101.2},{"s":"New president after 2 terms (ex 2008)","d":132,"v":100.4},{"s":"New president after 2 terms (ex 2008)","d":142,"v":100.2},{"s":"New president after 2 terms (ex 2008)","d":152,"v":100.6},{"s":"New president after 2 terms (ex 2008)","d":161,"v":100.9},{"s":"New president after 2 terms (ex 2008)","d":171,"v":101.6},{"s":"New president after 2 terms (ex 2008)","d":181,"v":102.3},{"s":"New president after 2 terms (ex 2008)","d":191,"v":103},{"s":"New president after 2 terms (ex 2008)","d":201,"v":103.7},{"s":"New president after 2 terms (ex 2008)","d":211,"v":104},{"s":"New president after 2 terms (ex 2008)","d":221,"v":104.3},{"s":"New president after 2 terms (ex 2008)","d":231,"v":104.5},{"s":"New president after 2 terms (ex 2008)","d":241,"v":104.6},{"s":"New president after 2 terms (ex 2008)","d":250,"v":105},{"s":"New president after 2 terms (ex 2008)","d":260,"v":105.5},{"s":"New president after 2 terms (ex 2008)","d":270,"v":106.4},{"s":"New president after 2 terms (ex 2008)","d":280,"v":105.7},{"s":"New president after 2 terms (ex 2008)","d":290,"v":105},{"s":"New president after 2 terms (ex 2008)","d":300,"v":105},{"s":"New president after 2 terms (ex 2008)","d":310,"v":105},{"s":"New president after 2 terms (ex 2008)","d":318,"v":104},{"s":"New president after 2 terms (ex 2008)","d":325,"v":102.8},{"s":"New president after 2 terms (ex 2008)","d":330,"v":102.3},{"s":"New president after 2 terms (ex 2008)","d":336,"v":103.5},{"s":"New president after 2 terms (ex 2008)","d":342,"v":105},{"s":"New president after 2 terms (ex 2008)","d":348,"v":104},{"s":"New president after 2 terms (ex 2008)","d":354,"v":103.3},{"s":"New president after 2 terms (ex 2008)","d":362,"v":103.2},{"s":"New president after 2 terms (ex 2008)","d":370,"v":103},
{"s":"When re-elected","d":-365,"v":89.9},{"s":"When re-elected","d":-355,"v":89.5},{"s":"When re-elected","d":-346,"v":90.4},{"s":"When re-elected","d":-338,"v":91.3},{"s":"When re-elected","d":-328,"v":92},{"s":"When re-elected","d":-319,"v":92.6},{"s":"When re-elected","d":-306,"v":93.1},{"s":"When re-elected","d":-294,"v":93.6},{"s":"When re-elected","d":-281,"v":93.8},{"s":"When re-elected","d":-269,"v":94},{"s":"When re-elected","d":-262,"v":94.6},{"s":"When re-elected","d":-254,"v":95},{"s":"When re-elected","d":-247,"v":94.5},{"s":"When re-elected","d":-240,"v":94},{"s":"When re-elected","d":-230,"v":94.5},{"s":"When re-elected","d":-219,"v":95},{"s":"When re-elected","d":-212,"v":94.3},{"s":"When re-elected","d":-205,"v":93.6},{"s":"When re-elected","d":-197,"v":94.3},{"s":"When re-elected","d":-190,"v":95},{"s":"When re-elected","d":-180,"v":94.5},{"s":"When re-elected","d":-170,"v":94},{"s":"When re-elected","d":-160,"v":93.2},{"s":"When re-elected","d":-150,"v":92.2},{"s":"When re-elected","d":-140,"v":92.6},{"s":"When re-elected","d":-130,"v":93},{"s":"When re-elected","d":-123,"v":93.3},{"s":"When re-elected","d":-115,"v":92.7},{"s":"When re-elected","d":-108,"v":91.9},{"s":"When re-elected","d":-103,"v":91.3},{"s":"When re-elected","d":-98,"v":92.3},{"s":"When re-elected","d":-94,"v":93.3},{"s":"When re-elected","d":-84,"v":94.4},{"s":"When re-elected","d":-74,"v":95.4},{"s":"When re-elected","d":-62,"v":96.1},{"s":"When re-elected","d":-49,"v":96.8},{"s":"When re-elected","d":-37,"v":97.5},{"s":"When re-elected","d":-24,"v":98.1},{"s":"When re-elected","d":-14,"v":98.8},{"s":"When re-elected","d":-7,"v":99.5},{"s":"When re-elected","d":0,"v":100.2},{"s":"When re-elected","d":12,"v":100},{"s":"When re-elected","d":25,"v":100.2},{"s":"When re-elected","d":37,"v":100.8},{"s":"When re-elected","d":50,"v":101.2},{"s":"When re-elected","d":62,"v":102},{"s":"When re-elected","d":75,"v":103},{"s":"When re-elected","d":84,"v":104},{"s":"When re-elected","d":94,"v":105},{"s":"When re-elected","d":104,"v":106},{"s":"When re-elected","d":114,"v":107.1},{"s":"When re-elected","d":122,"v":108.3},{"s":"When re-elected","d":132,"v":108},{"s":"When re-elected","d":142,"v":107.4},{"s":"When re-elected","d":151,"v":107},{"s":"When re-elected","d":161,"v":106.4},{"s":"When re-elected","d":171,"v":107},{"s":"When re-elected","d":181,"v":107.8},{"s":"When re-elected","d":191,"v":109.5},{"s":"When re-elected","d":201,"v":111.2},{"s":"When re-elected","d":211,"v":112},{"s":"When re-elected","d":221,"v":112.6},{"s":"When re-elected","d":231,"v":113},{"s":"When re-elected","d":241,"v":113.3},{"s":"When re-elected","d":248,"v":114.3},{"s":"When re-elected","d":255,"v":115.4},{"s":"When re-elected","d":263,"v":116.5},{"s":"When re-elected","d":270,"v":117.4},{"s":"When re-elected","d":280,"v":117},{"s":"When re-elected","d":290,"v":116.1},{"s":"When re-elected","d":298,"v":115.2},{"s":"When re-elected","d":305,"v":114.7},{"s":"When re-elected","d":313,"v":115.2},{"s":"When re-elected","d":320,"v":115.4},{"s":"When re-elected","d":330,"v":115.6},{"s":"When re-elected","d":339,"v":115.7},{"s":"When re-elected","d":347,"v":116.3},{"s":"When re-elected","d":354,"v":116.7},{"s":"When re-elected","d":358,"v":117},{"s":"When re-elected","d":362,"v":114.7},{"s":"When re-elected","d":366,"v":116.5},{"s":"When re-elected","d":370,"v":117.4}
],
"one":[{"k":1}]},
"layer":[
{"data":{"name":"bg"},
 "mark":{"type":"line","color":"#c9d7ee","strokeWidth":1.5,"strokeJoin":"round"},
 "encoding":{
  "x":{"field":"d","type":"quantitative","scale":{"domain":[-365,380],"nice":false,"zero":false},
       "axis":{"values":[-365,-270,-180,-90,0,90,180,270,365],"labelExpr":"'' + datum.value","title":"Days away from election","tickSize":5,"labelPadding":5,"labelFlush":false,"labelOverlap":false,"titleFontSize":10,"titleX":248,"titleY":38,"titleBaseline":"middle","titleAnchor":"middle"}},
  "y":{"field":"v","type":"quantitative","scale":{"domain":[60,160],"nice":false,"zero":false},
       "axis":{"values":[60,70,80,90,100,110,120,130,140,150,160],"tickCount":11,"labelOverlap":false,"labelFlush":false,"title":null,"tickSize":5,"labelPadding":9}},
  "detail":{"field":"s","type":"nominal"}}},
{"data":{"name":"one"},
 "mark":{"type":"rule","color":"#4472c4","strokeDash":[4,3],"strokeWidth":1},
 "encoding":{"x":{"datum":0},"y":{"datum":60},"y2":{"datum":100}}},
{"data":{"name":"hl"},
 "mark":{"type":"line","strokeWidth":3.3,"strokeJoin":"round"},
 "encoding":{
  "x":{"field":"d","type":"quantitative","title":"Days away from election"},
  "y":{"field":"v","type":"quantitative","title":null,"axis":{"values":[60,70,80,90,100,110,120,130,140,150,160],"tickCount":11,"labelOverlap":false}},
  "color":{"field":"s","type":"nominal",
    "scale":{"domain":["Average since 1976","New president after 1 term","New president after 2 terms","New president after 2 terms (ex 2008)","When re-elected"],
             "range":["#ee1c24","#ffc000","#a9d18e","#12a84a","#7030a0"]},
    "legend":{"title":null,"orient":"none","legendX":217,"legendY":-15,"symbolType":"stroke","symbolSize":1849,"symbolStrokeWidth":3.5,"clipHeight":16,"rowPadding":2.3,"labelFontSize":13.4,"labelFont":"Open Sans","labelColor":"#262626","labelOffset":2,"labelLimit":400,"padding":0}},
  "order":{"field":"d","type":"quantitative"}}},
{"data":{"name":"one"},
 "mark":{"type":"text","align":"left","baseline":"middle","fontSize":14,"font":"Open Sans","color":"#262626"},
 "encoding":{"x":{"datum":-349},"y":{"datum":124.5},"text":{"value":"S&P 500 performance"}}},
{"data":{"name":"one"},
 "mark":{"type":"text","align":"left","baseline":"middle","fontSize":14,"font":"Open Sans","color":"#262626"},
 "encoding":{"x":{"datum":-349},"y":{"datum":116.8},"text":{"value":"Election day = 100"}}},
{"data":{"name":"one"},
 "mark":{"type":"text","align":"center","baseline":"middle","fontSize":10,"lineHeight":13,"font":"Open Sans","color":"#404040"},
 "encoding":{"x":{"datum":-34},"y":{"datum":67.2},"text":{"value":["Election","day"]}}}
]
}
